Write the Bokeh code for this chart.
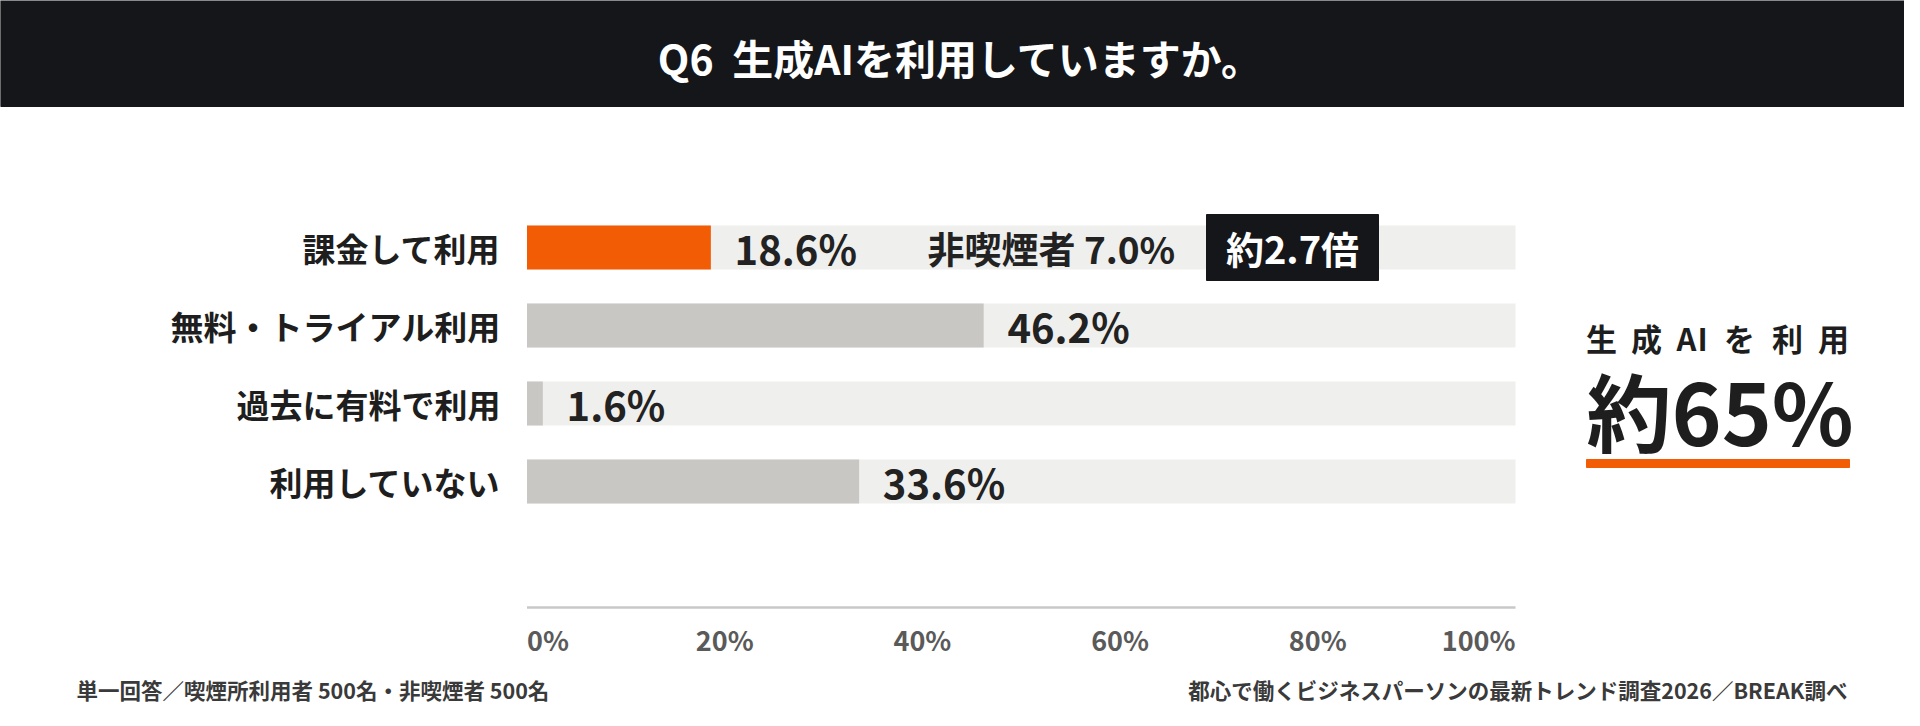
from bokeh.plotting import figure
from bokeh.models import Range1d
from bokeh.core.properties import value
from bokeh.embed import file_html
from bokeh.resources import INLINE

# data
categories = ["課金して利用", "無料・トライアル利用", "過去に有料で利用", "利用していない"]
percents = [18.6, 46.2, 1.6, 33.6]
bar_colors = ["#f25c05", "#c9c7c3", "#c9c7c3", "#c9c7c3"]
tick_values = [0, 20, 40, 60, 80, 100]
tick_labels = ["0%", "20%", "40%", "60%", "80%", "100%"]
nonsmoker_pct = 7.0
ratio_text = "約2.7倍"
callout_label = ["生", "成", "A", "I", "を", "利", "用"]
callout_value = "約65%"
title = "Q6\u00a0\u00a0生成AIを利用していますか。"
note_left = "単一回答／喫煙所利用者 500名・非喫煙者 500名"
note_right = "都心で働くビジネスパーソンの最新トレンド調査2026／BREAK調べ"

FONT = value("Noto Sans CJK JP")
W, H = 1904, 710

# pixel layout: 0% and 100% of the bar scale
X0, X100 = 526.5, 1515.0
k = (X100 - X0) / 100.0


def px(x):
    # pixel -> data x
    return (x - X0) / k


row_y = [247 + 78 * i for i in range(len(categories))]
bar_h = 44

p = figure(width=W, height=H, x_range=Range1d(px(0), px(W)),
           y_range=Range1d(H, 0), x_axis_type=None, y_axis_type=None,
           output_backend="svg", toolbar_location=None, min_border=0)
p.grid.visible = False
p.outline_line_color = None
p.background_fill_color = "white"

# header band
p.quad(left=px(0), right=px(1920), top=-10, bottom=106, color="#15161a")
p.text(x=px(960), y=56, text=[title], text_font=FONT, text_font_style="bold",
       text_font_size="41px", text_color="white", text_align="center",
       text_baseline="middle")

# bars
p.hbar(y=row_y, left=0, right=100, height=bar_h, color="#efefed", line_color=None)
p.hbar(y=row_y, left=0, right=percents, height=bar_h, fill_color=bar_colors,
       line_color=None)

p.text(x=px(500), y=row_y, text=categories, text_font=FONT, text_font_style="bold",
       text_font_size="33px", text_color="#1e1e1e", text_align="right",
       text_baseline="middle")

p.text(x=[v + 2.4 for v in percents], y=row_y, text=["%.1f%%" % v for v in percents],
       text_font=FONT, text_font_style="bold", text_font_size="40px",
       text_color="#222222", text_align="left", text_baseline="middle")

p.text(x=px(927), y=row_y[0], text=["非喫煙者 %.1f%%" % nonsmoker_pct], text_font=FONT,
       text_font_style="bold", text_font_size="37px", text_color="#222222",
       text_align="left", text_baseline="middle")

p.quad(left=px(1206), right=px(1378), top=214, bottom=280, color="#15161a")
p.text(x=px(1292), y=row_y[0], text=[ratio_text], text_font=FONT, text_font_style="bold",
       text_font_size="38px", text_color="white", text_align="center",
       text_baseline="middle")

# axis
p.segment(x0=0, x1=100, y0=607, y1=607, line_color="#c8c8c8", line_width=2.5)
for sel, align in ((slice(0, 1), "left"), (slice(1, -1), "center"), (slice(-1, None), "right")):
    p.text(x=tick_values[sel], y=[639] * len(tick_values[sel]), text=tick_labels[sel],
           text_font=FONT, text_font_style="bold", text_font_size="27px",
           text_color="#5a5a5a", text_align=align, text_baseline="middle")

# callout
char_x = [1601, 1646, 1686, 1702, 1739, 1787, 1833]
p.text(x=[px(c) for c in char_x], y=[337] * len(callout_label), text=callout_label,
       text_font=FONT, text_font_style="bold", text_font_size="31px",
       text_color="#1e1e1e", text_align="center", text_baseline="middle")
p.text(x=px(1586), y=408, text=[callout_value], text_font=FONT, text_font_style="bold",
       text_font_size="85px", text_color="#1e1e1e", text_align="left",
       text_baseline="middle")
p.quad(left=px(1586), right=px(1849), top=459, bottom=467, color="#f25c05")

# notes
p.text(x=px(76), y=689, text=[note_left], text_font=FONT, text_font_style="bold",
       text_font_size="21.5px", text_color="#3a3a3a", text_align="left",
       text_baseline="middle")
p.text(x=px(1847), y=689, text=[note_right], text_font=FONT, text_font_style="bold",
       text_font_size="21.5px", text_color="#3a3a3a", text_align="right",
       text_baseline="middle")

open("out.html", "w").write(file_html(p, INLINE))
